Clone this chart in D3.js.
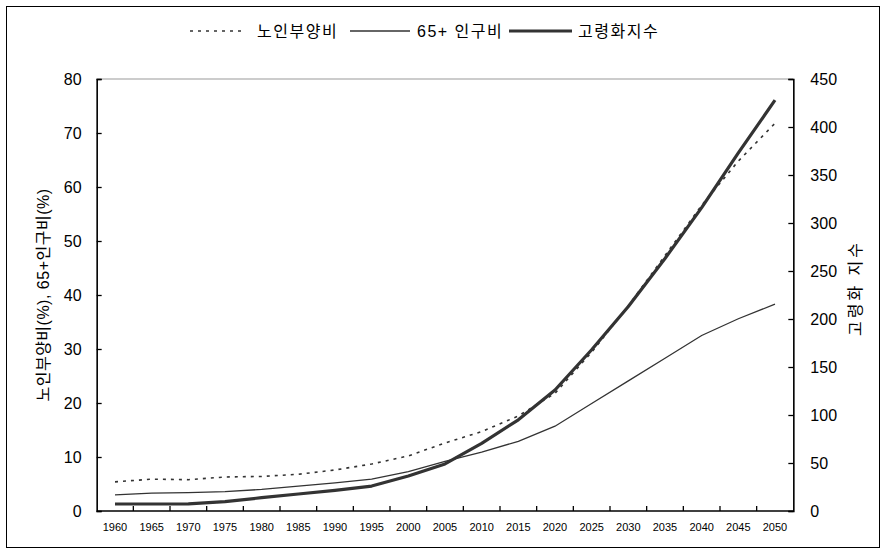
<!DOCTYPE html>
<html><head><meta charset="utf-8">
<script src="https://cdn.jsdelivr.net/npm/d3@7"></script>
<style>
body{margin:0;background:#fff;}
svg{display:block;font-family:"Liberation Sans","Noto Sans CJK KR",Arial,sans-serif;}
</style></head>
<body><svg id="c" width="886" height="554"></svg>
<script>
const years = [1960,1965,1970,1975,1980,1985,1990,1995,2000,2005,2010,2015,2020,2025,2030,2035,2040,2045,2050];
const dependency = [5.4,5.9,5.8,6.3,6.4,6.8,7.6,8.7,10.2,12.6,14.7,17.6,21.8,29.4,38.0,47.3,56.6,64.8,71.8];
const share65 = [3.0,3.3,3.4,3.6,4.0,4.6,5.2,5.9,7.3,9.2,10.9,12.9,15.7,19.9,24.1,28.3,32.5,35.6,38.3];
const agingIndex = [7.3,7.3,7.5,9.7,13.9,17.7,21.5,26.0,36.5,49.0,70.5,95.0,126.0,168.0,213.0,263.0,316.0,373.0,428.0];
const leftTicks = [0,10,20,30,40,50,60,70,80];
const rightTicks = [0,50,100,150,200,250,300,350,400,450];
const seriesNames = ["노인부양비","65+ 인구비","고령화지수"];
const leftTitle = "노인부양비(%), 65+인구비(%)";
const rightTitle = "고령화 지수";

const svg = d3.select("#c");
const L = 96.67, R = 793.33, T = 79, B = 511;
const ink = "#333";

svg.append("rect").attr("x",6.5).attr("y",6.5).attr("width",873).attr("height",541)
  .attr("fill","none").attr("stroke","#000").attr("stroke-width",1);

const x = d3.scaleBand().domain(years).range([L,R]).padding(0);
const cx = d => x(d) + x.bandwidth()/2;
const yL = d3.scaleLinear().domain([0,80]).range([B,T]);
const yR = d3.scaleLinear().domain([0,450]).range([B,T]);

// top border of plot
svg.append("line").attr("x1",L).attr("x2",R).attr("y1",T).attr("y2",T)
  .attr("stroke","#999").attr("stroke-width",1.2);

// left axis
const gl = svg.append("g").attr("transform",`translate(${L},0)`)
  .call(d3.axisLeft(yL).tickValues(leftTicks).tickSize(-5).tickPadding(15));
gl.select(".domain").attr("stroke","#000").attr("stroke-width",1.6);
gl.selectAll(".tick line").attr("stroke","#000").attr("stroke-width",1.3);
gl.selectAll("text").attr("font-size",16).attr("fill","#000").attr("dy","0.35em");

// right axis
const gr = svg.append("g").attr("transform",`translate(${R},0)`)
  .call(d3.axisRight(yR).tickValues(rightTicks).tickSize(-5).tickPadding(17));
gr.select(".domain").attr("stroke","#000").attr("stroke-width",1.6);
gr.selectAll(".tick line").attr("stroke","#000").attr("stroke-width",1.3);
gr.selectAll("text").attr("font-size",16).attr("fill","#000").attr("dy","0.35em");

// bottom axis
const gb = svg.append("g").attr("transform",`translate(0,${B})`);
gb.append("line").attr("x1",L).attr("x2",R).attr("y1",0).attr("y2",0)
  .attr("stroke","#000").attr("stroke-width",1.6);
gb.selectAll("line.tk").data(years.slice(1)).join("line").attr("class","tk")
  .attr("x1",d=>x(d)).attr("x2",d=>x(d)).attr("y1",0).attr("y2",-5)
  .attr("stroke","#000").attr("stroke-width",1.3);
gb.selectAll("text").data(years).join("text")
  .attr("x",d=>cx(d)).attr("y",16).attr("dy","0.35em").attr("text-anchor","middle")
  .attr("font-size",11).attr("fill","#000").text(d=>d);

// lines
const lineL = d3.line().x((d,i)=>cx(years[i])).y(d=>yL(d));
const lineR = d3.line().x((d,i)=>cx(years[i])).y(d=>yR(d));
svg.append("path").attr("d",lineL(share65)).attr("fill","none").attr("stroke",ink).attr("stroke-width",1.3);
svg.append("path").attr("d",lineR(agingIndex)).attr("fill","none").attr("stroke",ink).attr("stroke-width",3.2).attr("stroke-linejoin","round");
svg.append("path").attr("d",lineL(dependency)).attr("fill","none").attr("stroke",ink).attr("stroke-width",1.6).attr("stroke-dasharray","3,5");

// axis titles
svg.append("text").attr("transform",`translate(43,${(T+B)/2}) rotate(-90)`)
  .attr("text-anchor","middle").attr("dy","0.35em").attr("font-size",16).attr("fill","#000")
  .attr("letter-spacing","0.5px").text(leftTitle);
svg.append("text").attr("transform",`translate(855,288) rotate(-90)`)
  .attr("text-anchor","middle").attr("dy","0.35em").attr("font-size",16).attr("fill","#000")
  .attr("letter-spacing","3px").text(rightTitle);

// legend
const ly = 31;
const leg = [
  {x1:190,x2:245,tx:257,w:1.6,dash:"3,5",name:seriesNames[0]},
  {x1:350,x2:410,tx:417,w:1.3,dash:null,name:seriesNames[1]},
  {x1:509,x2:572,tx:578,w:3.2,dash:null,name:seriesNames[2]}
];
leg.forEach(d=>{
  svg.append("line").attr("x1",d.x1).attr("x2",d.x2).attr("y1",ly).attr("y2",ly)
    .attr("stroke",ink).attr("stroke-width",d.w).attr("stroke-dasharray",d.dash);
  svg.append("text").attr("x",d.tx).attr("y",ly).attr("dy","0.35em").attr("font-size",16)
    .attr("fill","#000").attr("letter-spacing","1.5px").text(d.name);
});
</script></body></html>
